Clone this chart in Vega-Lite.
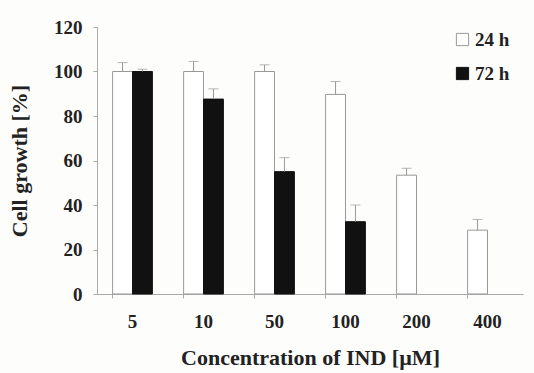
{
  "$schema": "https://vega.github.io/schema/vega-lite/v6.json",
  "width": 426,
  "height": 267,
  "autosize": {"type": "none"},
  "padding": {"left": 97, "top": 27, "right": 11, "bottom": 79},
  "background": "#fdfdfc",
  "config": {
    "view": {"stroke": null},
    "font": "Liberation Serif",
    "axis": {"labelFont": "Liberation Serif", "titleFont": "Liberation Serif", "labelFontWeight": "bold", "titleFontWeight": "bold", "labelColor": "#222", "titleColor": "#222", "domainColor": "#aaa", "tickColor": "#aaa", "grid": false}
  },
  "data": {
    "values": [
      {"conc": "5", "time": "24 h", "value": 100, "err": 4},
      {"conc": "5", "time": "72 h", "value": 100, "err": 1},
      {"conc": "10", "time": "24 h", "value": 100, "err": 4.5},
      {"conc": "10", "time": "72 h", "value": 87.6, "err": 4.6},
      {"conc": "50", "time": "24 h", "value": 100, "err": 3},
      {"conc": "50", "time": "72 h", "value": 55, "err": 6.3},
      {"conc": "100", "time": "24 h", "value": 89.7, "err": 5.8},
      {"conc": "100", "time": "72 h", "value": 32.5, "err": 7.5},
      {"conc": "200", "time": "24 h", "value": 53.4, "err": 3.1},
      {"conc": "400", "time": "24 h", "value": 28.7, "err": 4.8}
    ]
  },
  "encoding": {
    "x": {
      "field": "conc", "type": "nominal", "sort": ["5", "10", "50", "100", "200", "400"],
      "scale": {"paddingInner": 0.44, "paddingOuter": 0.22},
      "axis": {"labelAngle": 0, "labelFontSize": 19, "labelPadding": 14, "tickSize": 4, "bandPosition": 0, "title": "Concentration of IND [\u00b5M]", "titleFontSize": 22, "titlePadding": 16}
    },
    "xOffset": {"field": "time", "type": "nominal", "scale": {"domain": ["24 h", "72 h"]}}
  },
  "layer": [
    {
      "mark": {"type": "bar", "strokeWidth": 1},
      "encoding": {
        "y": {
          "field": "value", "type": "quantitative",
          "scale": {"domain": [0, 120]},
          "axis": {"values": [0, 20, 40, 60, 80, 100, 120], "labelFontSize": 19, "labelPadding": 11, "tickSize": 4, "title": "Cell growth [%]", "titleFontSize": 22, "titlePadding": 22}
        },
        "fill": {
          "field": "time", "type": "nominal",
          "scale": {"domain": ["24 h", "72 h"], "range": ["#ffffff", "#111111"]},
          "legend": {"title": null, "orient": "none", "legendX": 356, "legendY": 3, "labelFontSize": 19, "labelFontWeight": "bold", "labelColor": "#222", "symbolType": "square", "symbolSize": 150, "rowPadding": 14, "labelOffset": 3, "symbolStrokeWidth": 1}
        },
        "stroke": {
          "field": "time", "type": "nominal",
          "scale": {"domain": ["24 h", "72 h"], "range": ["#999999", "#111111"]},
          "legend": null
        }
      }
    },
    {
      "transform": [{"calculate": "datum.value + datum.err", "as": "top"}],
      "mark": {"type": "rule", "color": "#999", "strokeWidth": 1},
      "encoding": {
        "y": {"field": "value", "type": "quantitative"},
        "y2": {"field": "top"}
      }
    },
    {
      "transform": [{"calculate": "datum.value + datum.err", "as": "top"}],
      "mark": {"type": "tick", "color": "#999", "thickness": 1, "size": 10, "orient": "horizontal"},
      "encoding": {
        "y": {"field": "top", "type": "quantitative"}
      }
    }
  ]
}
